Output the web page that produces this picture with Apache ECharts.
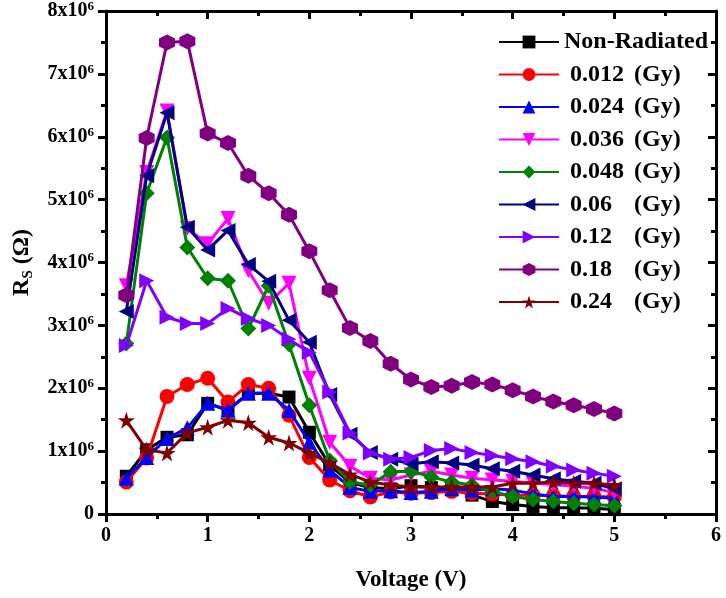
<!DOCTYPE html>
<html>
<head>
<meta charset="utf-8">
<script src="https://cdn.jsdelivr.net/npm/echarts@6/dist/echarts.min.js"></script>
<style>html,body{margin:0;padding:0;background:#fff}#c{width:726px;height:598px}</style>
</head>
<body>
<div id="c"></div>
<script>
// Voltage (V)
const voltage = [0.2,0.4,0.6,0.8,1.0,1.2,1.4,1.6,1.8,2.0,2.2,2.4,2.6,2.8,3.0,3.2,3.4,3.6,3.8,4.0,4.2,4.4,4.6,4.8,5.0];
// R_S values in units of 10^6 Ohm
const nonRadiated = [0.6,1.02,1.22,1.26,1.76,1.65,1.92,1.92,1.86,1.3,0.78,0.5,0.42,0.4,0.45,0.42,0.4,0.3,0.2,0.15,0.12,0.1,0.1,0.09,0.07];
const gy0012 = [0.51,0.89,1.87,2.06,2.16,1.78,2.06,2.0,1.57,0.9,0.54,0.37,0.27,0.35,0.33,0.34,0.36,0.33,0.32,0.3,0.3,0.29,0.28,0.28,0.27];
const gy0024 = [0.57,0.9,1.2,1.37,1.76,1.65,1.92,1.92,1.65,1.14,0.7,0.42,0.36,0.37,0.34,0.36,0.4,0.38,0.4,0.38,0.32,0.28,0.28,0.27,0.25];
const gy0036 = [3.63,5.43,6.41,4.54,4.3,4.7,3.87,3.35,3.67,2.16,1.14,0.76,0.57,0.54,0.62,0.68,0.62,0.57,0.54,0.52,0.49,0.47,0.44,0.41,0.34];
const gy0048 = [2.71,5.1,5.99,4.24,3.75,3.71,2.95,3.63,2.7,1.73,0.85,0.51,0.46,0.67,0.68,0.59,0.51,0.46,0.36,0.28,0.23,0.2,0.17,0.15,0.13];
const gy006 = [3.22,5.38,6.38,4.56,4.2,4.51,3.97,3.7,3.08,2.73,1.9,1.27,0.98,0.87,0.8,0.83,0.81,0.78,0.72,0.68,0.62,0.56,0.52,0.49,0.4];
const gy012 = [2.68,3.71,3.13,3.03,3.03,3.27,3.11,3.0,2.78,2.57,1.94,1.29,0.97,0.87,0.9,1.01,1.04,0.98,0.93,0.88,0.83,0.76,0.7,0.65,0.6];
const gy018 = [3.48,5.98,7.5,7.52,6.05,5.9,5.38,5.1,4.76,4.18,3.56,2.96,2.75,2.39,2.14,2.02,2.04,2.1,2.06,1.97,1.87,1.79,1.73,1.67,1.6];
const gy024 = [1.49,1.02,0.97,1.29,1.38,1.49,1.45,1.22,1.13,0.97,0.81,0.63,0.51,0.46,0.43,0.43,0.43,0.43,0.43,0.49,0.49,0.51,0.49,0.49,0.46];

const seriesNames = ['Non-Radiated','0.012 (Gy)','0.024 (Gy)','0.036 (Gy)','0.048 (Gy)','0.06 (Gy)','0.12 (Gy)','0.18 (Gy)','0.24 (Gy)'];
const seriesData = [nonRadiated,gy0012,gy0024,gy0036,gy0048,gy006,gy012,gy018,gy024];
const colors = ['#000000','#ff0000','#0000ff','#ff00ff','#008000','#000080','#8000ff','#800080','#800000'];
const hexPath = 'path://M0,-1L0.866,-0.5L0.866,0.5L0,1L-0.866,0.5L-0.866,-0.5Z';
const starPath = 'path://M0,-1L0.2245,-0.309L0.951,-0.309L0.363,0.118L0.588,0.809L0,0.382L-0.588,0.809L-0.363,0.118L-0.951,-0.309L-0.2245,-0.309Z';
const symbols = ['rect','circle','triangle','triangle','diamond','triangle','triangle',hexPath,starPath];
const rotates = [0,0,0,180,0,90,-90,0,0];
const sizes = [13,15,15,15,16,15,15,16,17];

const FONT = '"Liberation Serif", "Times New Roman", serif';

const series = seriesNames.map((n,i)=>({
  name:n, type:'line',
  data: voltage.map((v,j)=>[v, seriesData[i][j]]),
  symbol: symbols[i], symbolRotate: rotates[i], symbolSize: sizes[i],
  showAllSymbol:true,
  itemStyle:{color:colors[i]},
  lineStyle:{color:colors[i], width:3},
  z: 2+i
}));

const chart = echarts.init(document.getElementById('c'));
const axisCommon = {
  axisLine:{show:true,onZero:false,lineStyle:{color:'#000',width:3}},
  splitLine:{show:false}
};
chart.setOption({
  animation:false,
  backgroundColor:'#fff',
  grid:{left:106,right:10,top:10,bottom:84,containLabel:false},
  legend:{
    orient:'vertical', left:493, top:25,
    itemWidth:60, itemHeight:16, itemGap:8.5,
    data: seriesNames,
    textStyle:{fontFamily:FONT,fontWeight:'bold',fontSize:24,color:'#000',lineHeight:24,
      rich:{
        n:{fontFamily:FONT,fontWeight:'bold',fontSize:24,color:'#000',width:64,padding:[0,0,0,6]},
        g:{fontFamily:FONT,fontWeight:'bold',fontSize:24,color:'#000'}
      }},
    formatter: function(name){
      const k = name.indexOf(' (Gy)');
      if(k<0) return name;
      return '{n|'+name.slice(0,k)+'}{g|(Gy)}';
    }
  },
  xAxis:[
    Object.assign({type:'value',min:0,max:6,interval:1,position:'bottom',
      name:'Voltage (V)',nameLocation:'middle',nameGap:55,
      nameTextStyle:{fontFamily:FONT,fontWeight:'bold',fontSize:23,color:'#000'},
      axisTick:{show:true,inside:false,length:8,lineStyle:{width:3,color:'#000'}},
      minorTick:{show:true,splitNumber:2,length:5,lineStyle:{width:3,color:'#000'}},
      minorSplitLine:{show:false},
      axisLabel:{margin:12,fontFamily:FONT,fontWeight:'bold',fontSize:20,color:'#000'}
    },axisCommon),
    Object.assign({type:'value',min:0,max:6,interval:1,position:'top',
      axisTick:{show:true,inside:true,length:8,lineStyle:{width:3,color:'#000'}},
      minorTick:{show:true,splitNumber:2,length:5,lineStyle:{width:3,color:'#000'}},
      axisLabel:{show:false}
    },axisCommon)
  ],
  yAxis:[
    Object.assign({type:'value',min:0,max:8,interval:1,position:'left',
      name:'{r|R}{s|S}{r| (Ω)}',nameLocation:'middle',nameGap:70,nameRotate:90,
      nameTextStyle:{fontFamily:FONT,fontWeight:'bold',fontSize:24,color:'#000',
        rich:{
          r:{fontFamily:FONT,fontWeight:'bold',fontSize:24,color:'#000',lineHeight:28},
          s:{fontFamily:FONT,fontWeight:'bold',fontSize:15,color:'#000',lineHeight:28,verticalAlign:'bottom',padding:[8,0,0,0]}
        }},
      axisTick:{show:true,inside:false,length:8,lineStyle:{width:3,color:'#000'}},
      minorTick:{show:true,splitNumber:2,length:5,lineStyle:{width:3,color:'#000'}},
      axisLabel:{margin:12,fontFamily:FONT,fontWeight:'bold',fontSize:20,color:'#000',
        formatter:function(v){ return v===0 ? '{b|0}' : '{b|'+v+'x10}{s|6}'; },
        rich:{
          b:{fontFamily:FONT,fontWeight:'bold',fontSize:20,color:'#000',lineHeight:22},
          s:{fontFamily:FONT,fontWeight:'bold',fontSize:13,color:'#000',lineHeight:22,verticalAlign:'top',padding:[0,0,10,0]}
        }}
    },axisCommon),
    Object.assign({type:'value',min:0,max:8,interval:1,position:'right',
      axisTick:{show:true,inside:true,length:8,lineStyle:{width:3,color:'#000'}},
      minorTick:{show:true,splitNumber:2,length:5,lineStyle:{width:3,color:'#000'}},
      axisLabel:{show:false}
    },axisCommon)
  ],
  series: series
});
</script>
</body>
</html>
